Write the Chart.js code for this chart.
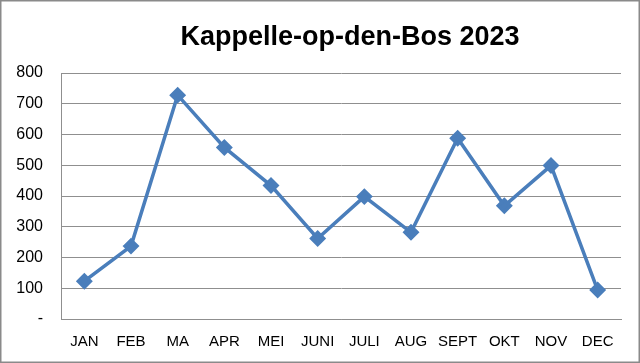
<!DOCTYPE html>
<html>
<head>
<meta charset="utf-8">
<script src="https://cdn.jsdelivr.net/npm/chart.js@4.4.0/dist/chart.umd.min.js"></script>
<style>
    html, body { margin: 0; padding: 0; background: #fff; }
    #wrap { position: relative; width: 640px; height: 363px; }
</style>
</head>
<body>
<div id="wrap"><canvas id="chart" width="640" height="363"></canvas></div>
<script>
    const chartTitle = 'Kappelle-op-den-Bos 2023';
    const months = ['JAN', 'FEB', 'MA', 'APR', 'MEI', 'JUNI', 'JULI', 'AUG', 'SEPT', 'OKT', 'NOV', 'DEC'];
    const visitors = [123, 237, 728, 558, 434, 262, 398, 282, 588, 368, 499, 94];
    const yTicks = [0, 100, 200, 300, 400, 500, 600, 700, 800];

    const lineBlue = '#4A7EBB';
    const gridGrey = '#8f8f8f';

    // frame round the whole chart + title, drawn like the Excel chart area
    const frameAndTitle = {
        id: 'frameAndTitle',
        afterDraw(chart) {
            const ctx = chart.ctx;
            ctx.save();
            ctx.strokeStyle = '#8a8a8a';
            ctx.lineWidth = 1.5;
            ctx.strokeRect(0.75, 0.75, chart.width - 1.5, chart.height - 1.5);
            ctx.fillStyle = '#000';
            ctx.font = 'bold 27px "Liberation Sans", Arial, sans-serif';
            ctx.textAlign = 'center';
            ctx.textBaseline = 'alphabetic';
            ctx.fillText(chartTitle, 350, 45);
            ctx.restore();
        }
    };

    new Chart(document.getElementById('chart'), {
        type: 'line',
        data: {
            labels: months,
            datasets: [{
                data: visitors,
                borderColor: lineBlue,
                backgroundColor: lineBlue,
                borderWidth: 3.5,
                pointStyle: 'rectRot',
                pointRadius: 6,
                pointHoverRadius: 6,
                tension: 0
            }]
        },
        options: {
            responsive: false,
            animation: false,
            layout: { padding: { top: 73, right: 19, left: 0, bottom: 0 } },
            plugins: {
                legend: { display: false },
                title: { display: false },
                tooltip: { enabled: false }
            },
            scales: {
                x: {
                    offset: true,
                    grid: { display: false, drawTicks: false },
                    border: { color: gridGrey, width: 1 },
                    ticks: {
                        color: '#000',
                        padding: 14,
                        maxRotation: 0,
                        autoSkip: false,
                        font: { family: '"Liberation Sans", Arial, sans-serif', size: 15 }
                    },
                    afterFit(scale) { scale.height = 44; }
                },
                y: {
                    min: 0,
                    max: 800,
                    afterBuildTicks(scale) { scale.ticks = yTicks.map(v => ({ value: v })); },
                    grid: { color: gridGrey, lineWidth: 1, drawTicks: false },
                    border: { color: gridGrey, width: 1 },
                    ticks: {
                        color: '#000',
                        padding: 18,
                        autoSkip: false,
                        font: { family: '"Liberation Sans", Arial, sans-serif', size: 16 },
                        callback: v => v === 0 ? '-' : v
                    },
                    afterFit(scale) { scale.width = 61; }
                }
            }
        },
        plugins: [frameAndTitle]
    });
</script>
</body>
</html>
